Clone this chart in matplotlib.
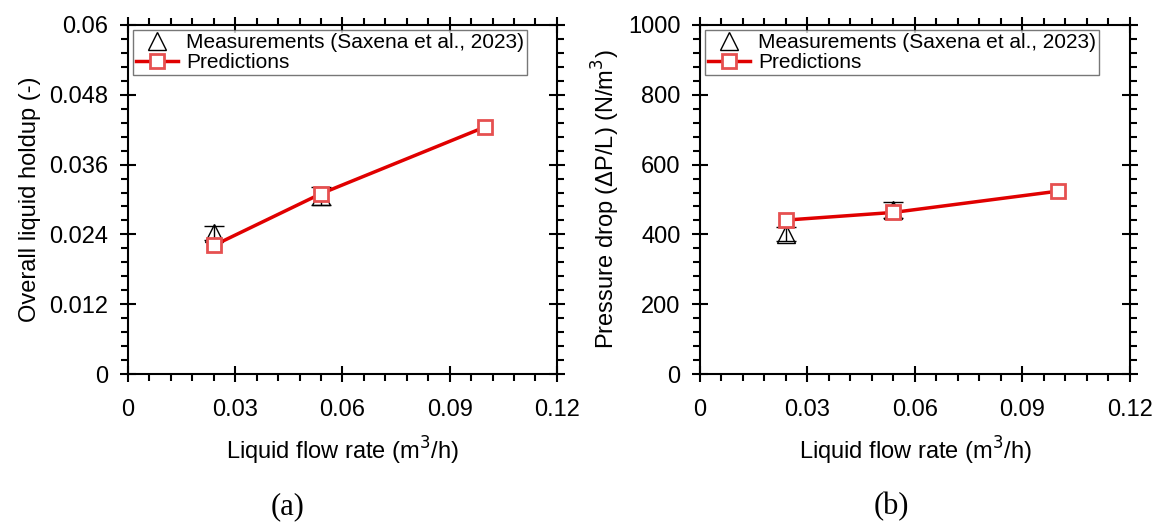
import numpy as np
import matplotlib
matplotlib.use('Agg')
import matplotlib.pyplot as plt
from matplotlib.ticker import MultipleLocator, AutoMinorLocator

plt.rcParams['font.family'] = ['Liberation Sans', 'DejaVu Sans']

# measured data (Saxena et al., 2023)
flow_meas = [0.024, 0.054]
holdup_meas = [0.0242, 0.0306]
holdup_err = [0.0012, 0.0016]
dp_meas = [400, 470]
dp_err = [20, 23]

# model predictions
flow_pred = [0.024, 0.054, 0.10]
holdup_pred = [0.0221, 0.0310, 0.0425]
dp_pred = [441, 463, 524]

xticks = [0, 0.03, 0.06, 0.09, 0.12]
xticklabels = ['0', '0.03', '0.06', '0.09', '0.12']


def style_axes(ax, ymax, ystep):
    ax.set_xlim(0, 0.12)
    ax.set_ylim(0, ymax)
    ax.set_xticks(xticks)
    ax.set_xticklabels(xticklabels)
    ax.yaxis.set_major_locator(MultipleLocator(ystep))
    ax.xaxis.set_minor_locator(AutoMinorLocator(5))
    ax.yaxis.set_minor_locator(AutoMinorLocator(5))
    ax.tick_params(which='both', top=True, right=True, labelsize=17, width=1.5)
    ax.tick_params(which='major', direction='inout', length=12, pad=8)
    ax.tick_params(axis='x', which='major', pad=12)
    ax.tick_params(which='minor', direction='out', length=5)
    for s in ax.spines.values():
        s.set_linewidth(1.5)
    ax.set_xlabel('Liquid flow rate (m$^3$/h)', fontsize=17, labelpad=10)


def draw(ax, y_meas, y_err, y_pred):
    meas = ax.errorbar(flow_meas, y_meas, yerr=y_err, fmt='^', ms=13, mfc='none', mec='black',
                       mew=1.0, ecolor='black', elinewidth=1.0, capsize=7.5, capthick=3.5, zorder=3)
    pred, = ax.plot(flow_pred, y_pred, '-', color='#e00000', lw=2.5, marker='s', ms=10,
                    mfc='white', mec='#e65050', mew=2, zorder=4)
    leg = ax.legend([meas[0], pred], ['Measurements (Saxena et al., 2023)', 'Predictions'],
                    loc='upper left', fontsize=15, frameon=True, fancybox=False,
                    edgecolor='#555555', handlelength=2.0, handletextpad=0.4,
                    borderpad=0.15, labelspacing=0.05, borderaxespad=0.25)
    leg.get_frame().set_linewidth(1.0)


fig = plt.figure(figsize=(11.6, 5.25), dpi=100)
ax1 = fig.add_axes([0.1103, 0.2876, 0.3698, 0.6648])
ax2 = fig.add_axes([0.6034, 0.2876, 0.3707, 0.6648])

draw(ax1, holdup_meas, holdup_err, holdup_pred)
style_axes(ax1, 0.06, 0.012)
ax1.set_yticks([0, 0.012, 0.024, 0.036, 0.048, 0.06])
ax1.set_yticklabels(['0', '0.012', '0.024', '0.036', '0.048', '0.06'])
ax1.set_ylabel('Overall liquid holdup (-)', fontsize=17, labelpad=6)

draw(ax2, dp_meas, dp_err, dp_pred)
style_axes(ax2, 1000, 200)
ax2.set_ylabel('Pressure drop (ΔP/L) (N/m$^3$)', fontsize=17)

fig.text(0.248, 0.035, '(a)', ha='center', va='center', fontsize=22, family='Liberation Serif')
fig.text(0.768, 0.035, '(b)', ha='center', va='center', fontsize=22, family='Liberation Serif')

fig.savefig('out.png', dpi=100)
